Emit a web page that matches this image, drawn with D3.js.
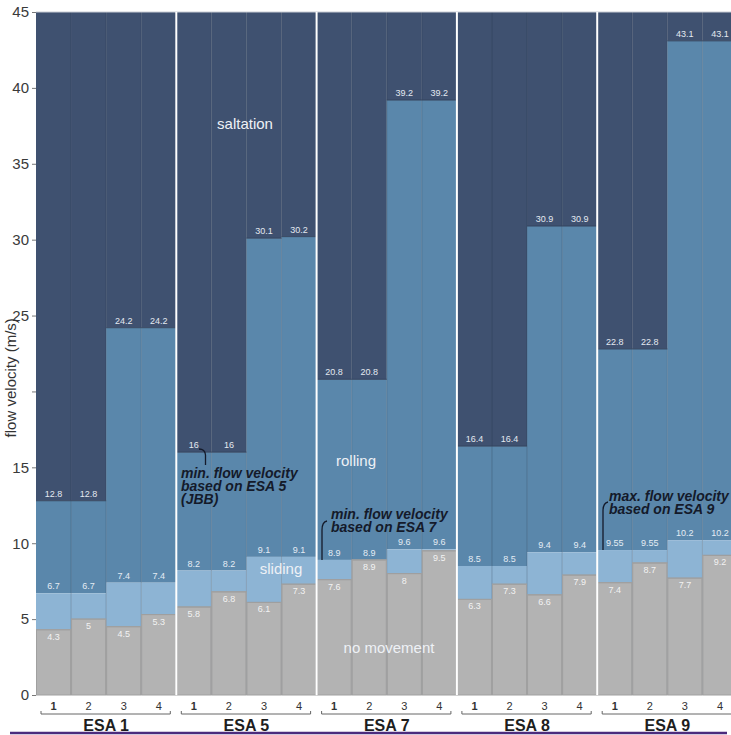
<!DOCTYPE html>
<html>
<head>
<meta charset="utf-8">
<script src="https://cdn.jsdelivr.net/npm/d3@7"></script>
<style>
  body { margin: 0; background: white; }
  svg { display: block; font-family: 'Liberation Sans', Arial, sans-serif; }
</style>
</head>
<body>
<svg width="731" height="735"></svg>
<script>
// data
const groups = ['ESA 1', 'ESA 5', 'ESA 7', 'ESA 8', 'ESA 9']
const runs = ['1', '2', '3', '4']
// upper limit of "no movement"
const noMove = [
  [4.3, 5, 4.5, 5.3],
  [5.8, 6.8, 6.1, 7.3],
  [7.6, 8.9, 8, 9.5],
  [6.3, 7.3, 6.6, 7.9],
  [7.4, 8.7, 7.7, 9.2]
]
// upper limit of "sliding"
const sliding = [
  [6.7, 6.7, 7.4, 7.4],
  [8.2, 8.2, 9.1, 9.1],
  [8.9, 8.9, 9.6, 9.6],
  [8.5, 8.5, 9.4, 9.4],
  [9.55, 9.55, 10.2, 10.2]
]
// upper limit of "rolling"
const rolling = [
  [12.8, 12.8, 24.2, 24.2],
  [16, 16, 30.1, 30.2],
  [20.8, 20.8, 39.2, 39.2],
  [16.4, 16.4, 30.9, 30.9],
  [22.8, 22.8, 43.1, 43.1]
]
const yTicks = [0, 5, 10, 15, 20, 25, 30, 35, 40, 45]
const yMax = 45

const colors = {
  noMove: '#b3b3b3',
  sliding: '#8db4d4',
  rolling: '#5a87ab',
  saltation: '#3f5170'
}

const svg = d3.select('svg')
const mLeft = 36, mTop = 12, mBottom = 695
const groupW = 140.3

const x0 = d3.scaleBand().domain(groups)
  .range([mLeft, mLeft + groupW * groups.length]).padding(0)
const x1 = d3.scaleBand().domain(runs).range([0, x0.bandwidth()]).padding(0)
const y = d3.scaleLinear().domain([0, yMax]).range([mBottom, mTop])

// flatten into one row per bar
const bars = []
groups.forEach((g, gi) => {
  runs.forEach((r, ri) => {
    bars.push({
      g, r,
      nm: noMove[gi][ri],
      sl: sliding[gi][ri],
      ro: rolling[gi][ri]
    })
  })
})

const barX = d => x0(d.g) + x1(d.r)
const bw = x1.bandwidth()

const segs = [
  { key: 'saltation', lo: d => d.ro, hi: d => yMax },
  { key: 'rolling', lo: d => d.sl, hi: d => d.ro },
  { key: 'sliding', lo: d => d.nm, hi: d => d.sl },
  { key: 'noMove', lo: d => 0, hi: d => d.nm }
]

const barG = svg.append('g')
segs.forEach(s => {
  barG.selectAll(null).data(bars).join('rect')
    .attr('x', barX)
    .attr('width', bw)
    .attr('y', d => y(s.hi(d)))
    .attr('height', d => y(s.lo(d)) - y(s.hi(d)))
    .attr('fill', colors[s.key])
})

// thin separators between runs
barG.selectAll(null).data(bars).join('line')
  .attr('x1', d => barX(d) + bw).attr('x2', d => barX(d) + bw)
  .attr('y1', y(yMax)).attr('y2', y(0))
  .attr('stroke', 'rgba(20,30,50,0.22)').attr('stroke-width', 1)

// boundary lines on top of segments
const edge = (acc, col) => barG.selectAll(null).data(bars).join('line')
  .attr('x1', barX).attr('x2', d => barX(d) + bw)
  .attr('y1', d => y(acc(d))).attr('y2', d => y(acc(d)))
  .attr('stroke', col).attr('stroke-width', 1)
edge(d => d.nm, '#9a9a9a')
edge(d => d.ro, '#34445e')

// gray outlines
barG.selectAll(null).data(bars).join('rect')
  .attr('x', d => barX(d) + 0.5).attr('width', bw - 1)
  .attr('y', d => y(d.nm)).attr('height', d => y(0) - y(d.nm))
  .attr('fill', 'none').attr('stroke', '#a0a0a0').attr('stroke-width', 1)

// top border
svg.append('line').attr('x1', mLeft).attr('x2', 731)
  .attr('y1', mTop).attr('y2', mTop)
  .attr('stroke', '#c8ccd4').attr('stroke-width', 1)

// white group separators
svg.selectAll(null).data(groups.slice(1)).join('line')
  .attr('x1', d => x0(d)).attr('x2', d => x0(d))
  .attr('y1', mTop).attr('y2', mBottom)
  .attr('stroke', 'white').attr('stroke-width', 2)

// value labels
const valFmt = v => String(v)
const lab = svg.append('g').attr('font-size', 9).attr('text-anchor', 'middle')
lab.selectAll(null).data(bars).join('text')
  .attr('x', d => barX(d) + bw / 2).attr('y', d => y(d.ro) - 4)
  .attr('fill', '#e4e9f1').text(d => valFmt(d.ro))
lab.selectAll(null).data(bars).join('text')
  .attr('x', d => barX(d) + bw / 2).attr('y', d => y(d.sl) - 4)
  .attr('fill', '#e4ecf4').text(d => valFmt(d.sl))
lab.selectAll(null).data(bars).join('text')
  .attr('x', d => barX(d) + bw / 2).attr('y', d => y(d.nm) + 10)
  .attr('fill', '#f2f2f2').text(d => valFmt(d.nm))

// category names
const catLabels = [
  { t: 'saltation', x: 245, v: 37.3 },
  { t: 'rolling', x: 356, v: 15.1 },
  { t: 'sliding', x: 281, v: 7.95 },
  { t: 'no movement', x: 389, v: 2.77 }
]
svg.append('g').selectAll(null).data(catLabels).join('text')
  .attr('x', d => d.x).attr('y', d => y(d.v))
  .attr('text-anchor', 'middle').attr('font-size', 15)
  .attr('fill', '#eef1f6').text(d => d.t)

// annotations
const notes = [
  { x: 181, y: 478, lines: ['min. flow velocity', 'based on ESA 5', '(JBB)'] },
  { x: 331, y: 519, lines: ['min. flow velocity', 'based on ESA 7'] },
  { x: 609, y: 501, lines: ['max. flow velocity', 'based on ESA 9'] }
]
const noteG = svg.append('g').attr('font-size', 14).attr('font-weight', 'bold')
  .attr('font-style', 'italic').attr('fill', '#141a2a')
notes.forEach(n => {
  noteG.append('text').selectAll('tspan').data(n.lines).join('tspan')
    .attr('x', n.x).attr('y', (d, i) => n.y + i * 13).text(d => d)
})
const hooks = [
  'M199,449 Q205,449 205.5,455 L205.5,465',
  'M327,521 Q322,522 322,530 L322,' + y(8.9),
  'M608,502 Q603,503 603,511 L603,' + y(9.55)
]
svg.append('g').selectAll(null).data(hooks).join('path')
  .attr('d', d => d).attr('fill', 'none')
  .attr('stroke', '#141a2a').attr('stroke-width', 1.3)

// y axis
const yAxis = d3.axisLeft(y).tickValues(yTicks).tickSize(4)
  .tickFormat(d => d === 20 ? '' : d)
const ya = svg.append('g').attr('transform', `translate(${mLeft},0)`).call(yAxis)
ya.select('.domain').remove()
ya.selectAll('line').attr('stroke', '#777')
ya.selectAll('text').attr('font-size', 15).attr('fill', '#3a3a3a')
  .attr('font-family', 'Liberation Sans, Arial, sans-serif')

svg.append('text')
  .attr('transform', `translate(16,${y(20.9)}) rotate(-90)`)
  .attr('text-anchor', 'middle').attr('font-size', 15).attr('fill', '#333')
  .text('flow velocity (m/s)')

// x axis: run numbers, brackets and group names
const xg = svg.append('g')
xg.selectAll(null).data(bars).join('text')
  .attr('x', d => barX(d) + bw / 2).attr('y', 710)
  .attr('text-anchor', 'middle').attr('font-size', 11)
  .attr('font-weight', d => d.r === '1' ? 'bold' : 'normal')
  .attr('fill', '#333').text(d => d.r)
xg.selectAll(null).data(groups).join('path')
  .attr('d', g => {
    const a = x0(g) + 5, b = x0(g) + x0.bandwidth() - 6
    return `M${a},711 L${a},714 L${b},714 L${b},711`
  })
  .attr('fill', 'none').attr('stroke', '#666').attr('stroke-width', 1)
xg.selectAll(null).data(groups).join('text')
  .attr('x', g => x0(g) + x0.bandwidth() / 2).attr('y', 731)
  .attr('text-anchor', 'middle').attr('font-size', 16).attr('font-weight', 'bold')
  .attr('fill', '#1e1e1e').text(g => g)

// purple rule along the bottom
svg.append('line').attr('x1', 10).attr('x2', 727)
  .attr('y1', 733).attr('y2', 733)
  .attr('stroke', '#4b2b7d').attr('stroke-width', 2.5)
</script>
</body>
</html>
